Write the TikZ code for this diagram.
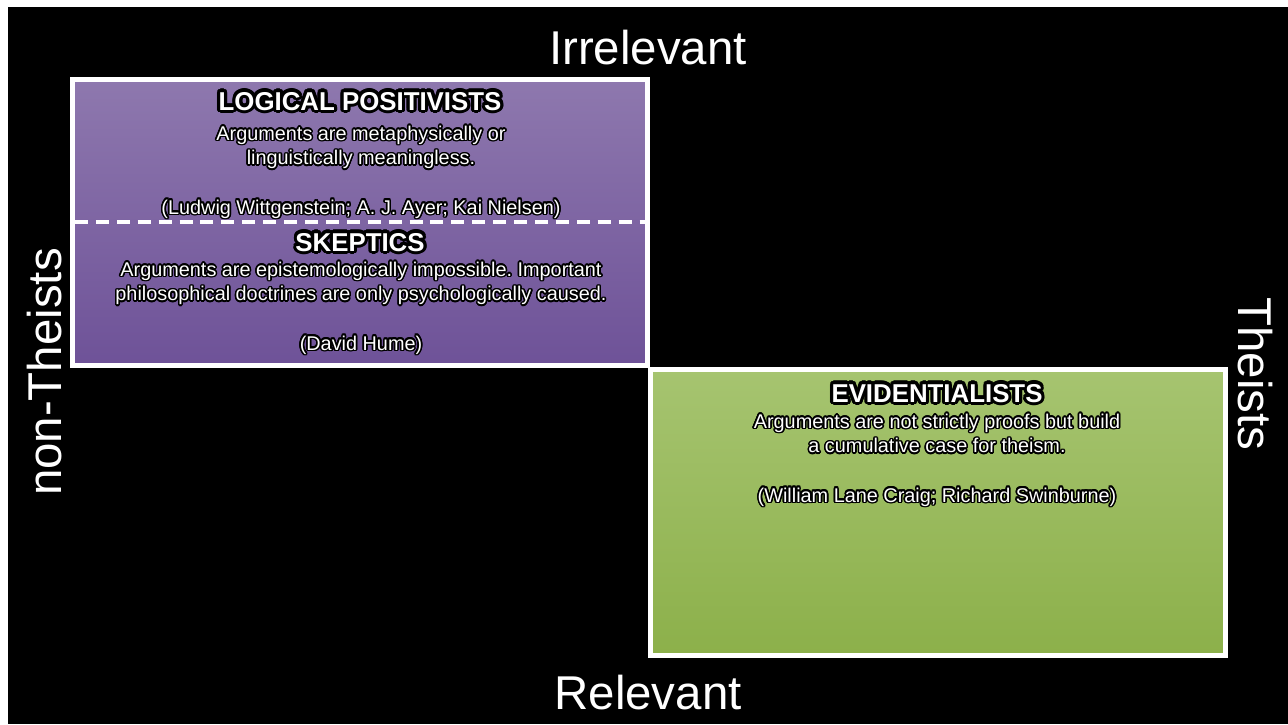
\documentclass[tikz,border=0pt]{standalone}
\usepackage{fontspec}
\setmainfont{Liberation Sans}
\usepackage{contour}
\frenchspacing

\definecolor{purpletop}{RGB}{142,120,174}
\definecolor{purplebot}{RGB}{110,82,152}
\definecolor{greentop}{RGB}{166,196,112}
\definecolor{greenbot}{RGB}{140,176,74}

\newcommand\glowh[1]{{\contourlength{1.8pt}\contour{black}{#1}}}
\newcommand\glowb[1]{{\contourlength{0.9pt}\contour{black}{#1}}}

\tikzset{
  axislabel/.style={text=white,font=\fontsize{27}{32}\selectfont,inner sep=0pt},
  heading/.style={text=white,font=\fontsize{14.7}{17}\selectfont\bfseries,inner sep=0pt,anchor=base},
  % base of a multi-line node is its last line
  bodytext/.style={text=white,font=\fontsize{11.3}{14}\selectfont,align=center,inner sep=0pt,anchor=base},
  frame/.style={draw=white,line width=2.8pt}
}

\begin{document}
\begin{tikzpicture}[x=0.02cm,y=-0.02cm]
\useasboundingbox (0,0) rectangle (1288,724);
\fill[white] (0,0) rectangle (1288,724);
\fill[black] (8,7) rectangle (1288,724);

% the two boxes
\shade[top color=purpletop,bottom color=purplebot] (72.5,79.5) rectangle (647.5,365.5);
\draw[frame] (72.5,79.5) rectangle (647.5,365.5);
\shade[top color=greentop,bottom color=greenbot] (650.5,369.5) rectangle (1225.5,655.5);
\draw[frame] (650.5,369.5) rectangle (1225.5,655.5);
\draw[white,line width=2.3pt,dash pattern=on 7.4pt off 4.5pt] (75,222) -- (645,222);

% axis labels
\node[axislabel] (irr) at (648,48) {Irrelevant};
\node[axislabel] (rel) at (648,693) {Relevant};
\node[axislabel,rotate=90] (nonth) at (45,372) {non-Theists};
\node[axislabel,rotate=-90] (theists) at (1255,374) {Theists};

% logical positivists
\node[heading] (lp) at (360,110) {\glowh{LOGICAL POSITIVISTS}};
\node[bodytext] (lptext) at (361,214) {\glowb{Arguments are metaphysically or}\\
  \glowb{linguistically meaningless.}\\[14pt]
  \glowb{(Ludwig Wittgenstein; A. J. Ayer; Kai Nielsen)}};

% skeptics
\node[heading] (sk) at (360,251) {\glowh{SKEPTICS}};
\node[bodytext] (sktext) at (361,350) {\glowb{Arguments are epistemologically impossible. Important}\\
  \glowb{philosophical doctrines are only psychologically caused.}\\[14pt]
  \glowb{(David Hume)}};

% evidentialists
\node[heading] (ev) at (937,402) {\glowh{EVIDENTIALISTS}};
\node[bodytext] (evtext) at (937,502) {\glowb{Arguments are not strictly proofs but build}\\
  \glowb{a cumulative case for theism.}\\[14pt]
  \glowb{(William Lane Craig; Richard Swinburne)}};
\end{tikzpicture}
\end{document}
